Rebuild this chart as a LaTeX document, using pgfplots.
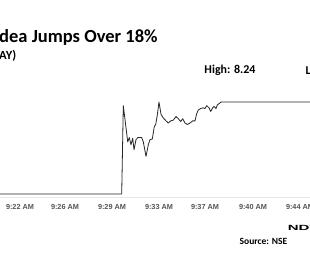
\documentclass[border=0pt]{standalone}
\usepackage{pgfplots}
\pgfplotsset{compat=1.18}
\usepackage{fontspec}
\setmainfont{Carlito}
\newfontfamily\tickfont{Liberation Sans}
\definecolor{tickgray}{HTML}{555555}
\definecolor{axisgray}{HTML}{E8E8E8}
\pgfplotstableread{
x y
0 6.97
121.7 6.97
123.3 8.19
125.7 7.92
127.7 7.69
129.3 7.75
131 7.65
132.7 7.74
134 7.58
136 7.72
138 7.75
141.7 7.75
143.3 7.69
146 7.49
148.3 7.65
150 7.72
152.3 7.73
154.3 7.90
155.7 7.93
157.3 8.06
159 8.24
161 8.07
163.3 8.02
166 7.98
168.3 7.95
170.7 7.98
173.3 7.99
176 8.04
178.3 8.01
180.7 7.97
182.7 8.01
185 7.95
187.3 7.93
190 7.95
192.7 7.98
195 7.98
196.7 8.08
198.3 8.13
200.7 8.15
203.3 8.16
205 8.15
206.7 8.19
209 8.16
210.7 8.11
212.7 8.16
214 8.18
216 8.15
217.3 8.20
219.3 8.22
221 8.24
312 8.24
}\pricedata
\begin{document}
\begin{tikzpicture}
\useasboundingbox (0pt,0pt) rectangle (310pt,280pt);
\clip (0pt,0pt) rectangle (310pt,280pt);
\fill[white] (0pt,0pt) rectangle (310pt,280pt);
\draw[axisgray, line width=0.6pt] (0pt,83pt) -- (310pt,83pt);
\begin{axis}[
  at={(0pt,83pt)}, anchor=south west,
  scale only axis, width=310pt, height=107pt,
  xmin=0, xmax=310, ymin=6.929, ymax=8.406,
  hide axis,
  clip=true,
]
\addplot[color=black!85, line width=0.8pt, line join=round] table[x=x,y=y] {\pricedata};
\end{axis}
\foreach \xx/\lab in {20/9:22 AM,65/9:26 AM,112/9:29 AM,159/9:33 AM,205/9:37 AM,253/9:40 AM,300/9:44 AM}{
  \node[font=\tickfont\fontsize{7.3}{8}\selectfont\bfseries, text=tickgray, inner sep=0pt] at (\xx pt,73pt) {\lab};
}
\node[anchor=west, inner sep=0pt, font=\fontsize{18.5}{22}\selectfont\bfseries] at (-1pt,243pt) {dea Jumps Over 18\%};
\node[anchor=west, inner sep=0pt, font=\fontsize{12.5}{14}\selectfont\bfseries] at (-1pt,224pt) {AY)};
\node[anchor=center, inner sep=0pt, font=\fontsize{12}{14}\selectfont\bfseries] at (230pt,210pt) {High: 8.24};
\node[anchor=west, inner sep=0pt, font=\fontsize{12}{14}\selectfont\bfseries] at (305.5pt,210pt) {Low: 6.95};
\node[anchor=west, inner sep=0pt, xscale=2, font=\tickfont\fontsize{7.5}{9}\selectfont\bfseries] at (287.5pt,52.5pt) {NDTV};
\node[anchor=west, inner sep=0pt, font=\fontsize{9.5}{11}\selectfont\bfseries] at (239.5pt,39pt) {Source: NSE};
\end{tikzpicture}
\end{document}
